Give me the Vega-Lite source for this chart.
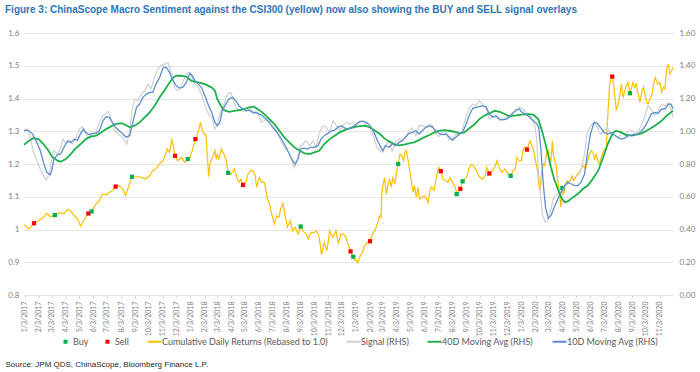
{
"$schema": "https://vega.github.io/schema/vega-lite/v6.json",
"width": 649,
"height": 262,
"autosize": {"type": "none"},
"padding": {"left": 24, "top": 33, "right": 27, "bottom": 77},
"background": "white",
"title": {"text": "Figure 3: ChinaScope Macro Sentiment against the CSI300 (yellow) now also showing the BUY and SELL signal overlays", "anchor": "start", "frame": "group", "dx": -19, "offset": 14, "font": "Liberation Sans", "fontSize": 10, "fontWeight": "bold", "color": "#2E75B6"},
"config": {"view": {"stroke": null}, "axis": {"labelFont": "Lato", "labelColor": "#808080"}},
"datasets": {
"cum": [
{"date":"2017-01-01","value":1.015},{"date":"2017-01-12","value":1.002},{"date":"2017-01-23","value":1.019},{"date":"2017-02-02","value":1.027},{"date":"2017-02-13","value":1.037},{"date":"2017-02-20","value":1.049},{"date":"2017-03-01","value":1.039},{"date":"2017-03-10","value":1.044},{"date":"2017-03-21","value":1.052},{"date":"2017-03-30","value":1.047},{"date":"2017-04-07","value":1.061},{"date":"2017-04-14","value":1.057},{"date":"2017-04-22","value":1.042},{"date":"2017-04-29","value":1.032},{"date":"2017-05-06","value":1.010},{"date":"2017-05-14","value":1.032},{"date":"2017-05-23","value":1.049},{"date":"2017-05-30","value":1.055},{"date":"2017-06-09","value":1.078},{"date":"2017-06-16","value":1.088},{"date":"2017-06-23","value":1.108},{"date":"2017-07-01","value":1.106},{"date":"2017-07-08","value":1.113},{"date":"2017-07-15","value":1.119},{"date":"2017-07-22","value":1.131},{"date":"2017-07-30","value":1.134},{"date":"2017-08-07","value":1.124},{"date":"2017-08-13","value":1.103},{"date":"2017-08-18","value":1.124},{"date":"2017-08-27","value":1.161},{"date":"2017-09-06","value":1.161},{"date":"2017-09-17","value":1.159},{"date":"2017-09-26","value":1.154},{"date":"2017-10-05","value":1.164},{"date":"2017-10-12","value":1.180},{"date":"2017-10-19","value":1.185},{"date":"2017-10-26","value":1.200},{"date":"2017-11-04","value":1.210},{"date":"2017-11-13","value":1.246},{"date":"2017-11-18","value":1.236},{"date":"2017-11-23","value":1.276},{"date":"2017-11-28","value":1.241},{"date":"2017-11-30","value":1.225},{"date":"2017-12-06","value":1.210},{"date":"2017-12-14","value":1.220},{"date":"2017-12-21","value":1.205},{"date":"2017-12-28","value":1.215},
{"date":"2018-01-02","value":1.220},{"date":"2018-01-07","value":1.241},{"date":"2018-01-14","value":1.276},{"date":"2018-01-20","value":1.297},{"date":"2018-01-25","value":1.327},{"date":"2018-01-29","value":1.302},{"date":"2018-02-02","value":1.291},{"date":"2018-02-06","value":1.291},{"date":"2018-02-10","value":1.210},{"date":"2018-02-12","value":1.161},{"date":"2018-02-15","value":1.200},{"date":"2018-02-20","value":1.220},{"date":"2018-02-26","value":1.241},{"date":"2018-03-01","value":1.215},{"date":"2018-03-03","value":1.230},{"date":"2018-03-07","value":1.215},{"date":"2018-03-12","value":1.246},{"date":"2018-03-18","value":1.230},{"date":"2018-03-23","value":1.210},{"date":"2018-03-27","value":1.173},{"date":"2018-04-02","value":1.169},{"date":"2018-04-10","value":1.185},{"date":"2018-04-15","value":1.159},{"date":"2018-04-20","value":1.144},{"date":"2018-04-24","value":1.154},{"date":"2018-04-29","value":1.136},{"date":"2018-05-05","value":1.144},{"date":"2018-05-10","value":1.169},{"date":"2018-05-16","value":1.180},{"date":"2018-05-20","value":1.180},{"date":"2018-05-25","value":1.169},{"date":"2018-05-29","value":1.129},{"date":"2018-06-04","value":1.159},{"date":"2018-06-09","value":1.144},{"date":"2018-06-15","value":1.144},{"date":"2018-06-21","value":1.098},{"date":"2018-06-26","value":1.078},{"date":"2018-07-01","value":1.048},{"date":"2018-07-07","value":1.017},{"date":"2018-07-12","value":1.042},{"date":"2018-07-17","value":1.037},{"date":"2018-07-21","value":1.063},{"date":"2018-07-26","value":1.080},{"date":"2018-07-30","value":1.048},{"date":"2018-08-05","value":1.007},{"date":"2018-08-11","value":1.027},{"date":"2018-08-16","value":0.996},{"date":"2018-08-22","value":1.007},{"date":"2018-08-28","value":0.986},{"date":"2018-09-03","value":1.009},{"date":"2018-09-08","value":0.996},{"date":"2018-09-15","value":0.986},{"date":"2018-09-20","value":0.971},{"date":"2018-09-26","value":0.991},{"date":"2018-10-03","value":0.991},{"date":"2018-10-08","value":0.996},{"date":"2018-10-14","value":0.976},{"date":"2018-10-19","value":0.923},{"date":"2018-10-25","value":0.961},{"date":"2018-10-31","value":0.935},{"date":"2018-11-06","value":0.996},{"date":"2018-11-13","value":0.976},{"date":"2018-11-20","value":0.996},{"date":"2018-11-25","value":0.956},{"date":"2018-12-01","value":0.986},{"date":"2018-12-07","value":0.986},{"date":"2018-12-12","value":0.976},{"date":"2018-12-16","value":0.956},{"date":"2018-12-22","value":0.933},{"date":"2018-12-28","value":0.917},{"date":"2018-12-31","value":0.907},
{"date":"2019-01-03","value":0.907},{"date":"2019-01-07","value":0.898},{"date":"2019-01-11","value":0.915},{"date":"2019-01-17","value":0.930},{"date":"2019-01-22","value":0.951},{"date":"2019-01-27","value":0.958},{"date":"2019-02-03","value":0.964},{"date":"2019-02-08","value":0.986},{"date":"2019-02-14","value":0.996},{"date":"2019-02-19","value":1.017},{"date":"2019-02-24","value":1.042},{"date":"2019-02-27","value":1.037},{"date":"2019-03-01","value":1.108},{"date":"2019-03-03","value":1.129},{"date":"2019-03-07","value":1.159},{"date":"2019-03-11","value":1.108},{"date":"2019-03-15","value":1.139},{"date":"2019-03-18","value":1.154},{"date":"2019-03-22","value":1.129},{"date":"2019-03-25","value":1.161},{"date":"2019-03-30","value":1.139},{"date":"2019-04-03","value":1.180},{"date":"2019-04-06","value":1.200},{"date":"2019-04-10","value":1.230},{"date":"2019-04-14","value":1.225},{"date":"2019-04-18","value":1.210},{"date":"2019-04-21","value":1.236},{"date":"2019-04-24","value":1.241},{"date":"2019-04-28","value":1.210},{"date":"2019-05-01","value":1.185},{"date":"2019-05-05","value":1.149},{"date":"2019-05-09","value":1.113},{"date":"2019-05-12","value":1.134},{"date":"2019-05-16","value":1.098},{"date":"2019-05-20","value":1.129},{"date":"2019-05-23","value":1.093},{"date":"2019-05-28","value":1.098},{"date":"2019-06-02","value":1.103},{"date":"2019-06-08","value":1.093},{"date":"2019-06-11","value":1.080},{"date":"2019-06-15","value":1.119},{"date":"2019-06-19","value":1.129},{"date":"2019-06-24","value":1.119},{"date":"2019-06-29","value":1.159},{"date":"2019-07-04","value":1.190},{"date":"2019-07-09","value":1.178},{"date":"2019-07-14","value":1.154},{"date":"2019-07-20","value":1.149},{"date":"2019-07-25","value":1.144},{"date":"2019-07-29","value":1.159},{"date":"2019-08-04","value":1.144},{"date":"2019-08-10","value":1.129},{"date":"2019-08-13","value":1.108},{"date":"2019-08-17","value":1.113},{"date":"2019-08-21","value":1.124},{"date":"2019-08-26","value":1.147},{"date":"2019-08-30","value":1.151},{"date":"2019-09-05","value":1.164},{"date":"2019-09-09","value":1.185},{"date":"2019-09-14","value":1.198},{"date":"2019-09-19","value":1.195},{"date":"2019-09-25","value":1.180},{"date":"2019-10-02","value":1.161},{"date":"2019-10-09","value":1.154},{"date":"2019-10-15","value":1.164},{"date":"2019-10-18","value":1.190},{"date":"2019-10-24","value":1.171},{"date":"2019-10-30","value":1.178},{"date":"2019-11-05","value":1.190},{"date":"2019-11-10","value":1.210},{"date":"2019-11-16","value":1.185},{"date":"2019-11-21","value":1.174},{"date":"2019-11-27","value":1.185},{"date":"2019-12-04","value":1.171},{"date":"2019-12-10","value":1.164},{"date":"2019-12-16","value":1.180},{"date":"2019-12-20","value":1.182},{"date":"2019-12-24","value":1.220},{"date":"2019-12-29","value":1.210},
{"date":"2020-01-03","value":1.210},{"date":"2020-01-06","value":1.241},{"date":"2020-01-10","value":1.251},{"date":"2020-01-15","value":1.244},{"date":"2020-01-19","value":1.261},{"date":"2020-01-22","value":1.271},{"date":"2020-01-26","value":1.256},{"date":"2020-01-30","value":1.241},{"date":"2020-02-03","value":1.210},{"date":"2020-02-07","value":1.180},{"date":"2020-02-10","value":1.139},{"date":"2020-02-13","value":1.119},{"date":"2020-02-16","value":1.169},{"date":"2020-02-20","value":1.200},{"date":"2020-02-23","value":1.195},{"date":"2020-02-27","value":1.230},{"date":"2020-03-02","value":1.241},{"date":"2020-03-04","value":1.220},{"date":"2020-03-08","value":1.210},{"date":"2020-03-11","value":1.271},{"date":"2020-03-13","value":1.230},{"date":"2020-03-16","value":1.210},{"date":"2020-03-19","value":1.200},{"date":"2020-03-22","value":1.159},{"date":"2020-03-26","value":1.119},{"date":"2020-03-30","value":1.068},{"date":"2020-04-02","value":1.127},{"date":"2020-04-05","value":1.108},{"date":"2020-04-09","value":1.139},{"date":"2020-04-13","value":1.149},{"date":"2020-04-16","value":1.144},{"date":"2020-04-20","value":1.154},{"date":"2020-04-24","value":1.164},{"date":"2020-04-27","value":1.149},{"date":"2020-05-01","value":1.159},{"date":"2020-05-06","value":1.169},{"date":"2020-05-11","value":1.178},{"date":"2020-05-15","value":1.190},{"date":"2020-05-19","value":1.195},{"date":"2020-05-23","value":1.185},{"date":"2020-05-28","value":1.210},{"date":"2020-06-01","value":1.230},{"date":"2020-06-05","value":1.241},{"date":"2020-06-08","value":1.236},{"date":"2020-06-12","value":1.215},{"date":"2020-06-16","value":1.230},{"date":"2020-06-19","value":1.210},{"date":"2020-06-23","value":1.200},{"date":"2020-06-27","value":1.220},{"date":"2020-07-01","value":1.236},{"date":"2020-07-04","value":1.246},{"date":"2020-07-08","value":1.246},{"date":"2020-07-11","value":1.342},{"date":"2020-07-15","value":1.439},{"date":"2020-07-18","value":1.459},{"date":"2020-07-21","value":1.467},{"date":"2020-07-24","value":1.444},{"date":"2020-07-27","value":1.403},{"date":"2020-07-30","value":1.363},{"date":"2020-08-03","value":1.383},{"date":"2020-08-07","value":1.414},{"date":"2020-08-10","value":1.444},{"date":"2020-08-14","value":1.403},{"date":"2020-08-18","value":1.424},{"date":"2020-08-21","value":1.439},{"date":"2020-08-25","value":1.449},{"date":"2020-08-29","value":1.416},{"date":"2020-09-02","value":1.434},{"date":"2020-09-05","value":1.449},{"date":"2020-09-09","value":1.434},{"date":"2020-09-12","value":1.444},{"date":"2020-09-16","value":1.414},{"date":"2020-09-20","value":1.388},{"date":"2020-09-24","value":1.419},{"date":"2020-09-28","value":1.434},{"date":"2020-10-01","value":1.414},{"date":"2020-10-05","value":1.388},{"date":"2020-10-08","value":1.383},{"date":"2020-10-12","value":1.398},{"date":"2020-10-17","value":1.414},{"date":"2020-10-21","value":1.449},{"date":"2020-10-24","value":1.464},{"date":"2020-10-29","value":1.444},{"date":"2020-11-03","value":1.449},{"date":"2020-11-07","value":1.419},{"date":"2020-11-11","value":1.434},{"date":"2020-11-14","value":1.429},{"date":"2020-11-18","value":1.490},{"date":"2020-11-22","value":1.505},{"date":"2020-11-25","value":1.475},{"date":"2020-11-29","value":1.485},{"date":"2020-12-02","value":1.495}
],
"signals": [
{"date":"2017-01-23","value":1.019,"signal":"Sell"},{"date":"2017-03-10","value":1.044,"signal":"Buy"},{"date":"2017-05-23","value":1.049,"signal":"Sell"},{"date":"2017-05-30","value":1.055,"signal":"Buy"},{"date":"2017-07-22","value":1.131,"signal":"Sell"},{"date":"2017-08-27","value":1.161,"signal":"Buy"},{"date":"2017-11-30","value":1.225,"signal":"Sell"},{"date":"2017-12-28","value":1.215,"signal":"Buy"},{"date":"2018-01-14","value":1.276,"signal":"Sell"},{"date":"2018-03-27","value":1.173,"signal":"Buy"},{"date":"2018-04-29","value":1.136,"signal":"Sell"},{"date":"2018-09-03","value":1.009,"signal":"Buy"},{"date":"2018-12-22","value":0.933,"signal":"Sell"},{"date":"2018-12-28","value":0.917,"signal":"Buy"},{"date":"2019-02-03","value":0.964,"signal":"Sell"},{"date":"2019-04-06","value":1.200,"signal":"Buy"},{"date":"2019-07-09","value":1.178,"signal":"Sell"},{"date":"2019-08-13","value":1.108,"signal":"Buy"},{"date":"2019-08-21","value":1.124,"signal":"Sell"},{"date":"2019-08-26","value":1.147,"signal":"Buy"},{"date":"2019-10-24","value":1.171,"signal":"Sell"},{"date":"2019-12-10","value":1.164,"signal":"Buy"},{"date":"2020-01-15","value":1.244,"signal":"Sell"},{"date":"2020-04-02","value":1.127,"signal":"Buy"},{"date":"2020-07-21","value":1.467,"signal":"Sell"},{"date":"2020-08-29","value":1.416,"signal":"Buy"}
],
"sig": [
{"date":"2017-01-01","value":1.003},{"date":"2017-01-07","value":1.013},{"date":"2017-01-14","value":0.973},{"date":"2017-01-21","value":0.881},{"date":"2017-01-29","value":0.820},{"date":"2017-02-06","value":0.769},{"date":"2017-02-13","value":0.729},{"date":"2017-02-19","value":0.702},{"date":"2017-02-26","value":0.739},{"date":"2017-03-01","value":0.800},{"date":"2017-03-08","value":0.881},{"date":"2017-03-16","value":0.861},{"date":"2017-03-23","value":0.902},{"date":"2017-03-28","value":0.952},{"date":"2017-04-03","value":0.922},{"date":"2017-04-11","value":0.942},{"date":"2017-04-18","value":0.922},{"date":"2017-04-25","value":0.958},{"date":"2017-05-03","value":1.013},{"date":"2017-05-10","value":1.028},{"date":"2017-05-17","value":0.983},{"date":"2017-05-25","value":0.958},{"date":"2017-06-01","value":0.983},{"date":"2017-06-09","value":0.993},{"date":"2017-06-16","value":1.054},{"date":"2017-06-24","value":1.095},{"date":"2017-06-29","value":1.105},{"date":"2017-07-06","value":1.121},{"date":"2017-07-11","value":1.085},{"date":"2017-07-19","value":1.003},{"date":"2017-07-26","value":0.983},{"date":"2017-08-03","value":0.973},{"date":"2017-08-11","value":0.942},{"date":"2017-08-16","value":0.922},{"date":"2017-08-22","value":1.003},{"date":"2017-08-27","value":1.125},{"date":"2017-09-02","value":1.197},{"date":"2017-09-09","value":1.186},{"date":"2017-09-17","value":1.227},{"date":"2017-09-24","value":1.247},{"date":"2017-10-02","value":1.288},{"date":"2017-10-08","value":1.258},{"date":"2017-10-16","value":1.329},{"date":"2017-10-23","value":1.380},{"date":"2017-10-30","value":1.400},{"date":"2017-11-07","value":1.410},{"date":"2017-11-15","value":1.420},{"date":"2017-11-22","value":1.349},{"date":"2017-11-29","value":1.268},{"date":"2017-12-06","value":1.247},{"date":"2017-12-14","value":1.278},{"date":"2017-12-21","value":1.329},{"date":"2017-12-28","value":1.355},
{"date":"2018-01-02","value":1.359},{"date":"2018-01-05","value":1.339},{"date":"2018-01-13","value":1.288},{"date":"2018-01-20","value":1.268},{"date":"2018-01-27","value":1.227},{"date":"2018-02-04","value":1.156},{"date":"2018-02-12","value":1.105},{"date":"2018-02-19","value":1.085},{"date":"2018-02-26","value":1.013},{"date":"2018-03-03","value":1.044},{"date":"2018-03-11","value":1.125},{"date":"2018-03-18","value":1.166},{"date":"2018-03-25","value":1.227},{"date":"2018-04-02","value":1.237},{"date":"2018-04-10","value":1.166},{"date":"2018-04-17","value":1.136},{"date":"2018-04-24","value":1.125},{"date":"2018-05-02","value":1.125},{"date":"2018-05-08","value":1.129},{"date":"2018-05-16","value":1.136},{"date":"2018-05-23","value":1.105},{"date":"2018-05-31","value":1.115},{"date":"2018-06-08","value":1.054},{"date":"2018-06-15","value":1.064},{"date":"2018-06-22","value":1.085},{"date":"2018-06-29","value":1.044},{"date":"2018-07-07","value":1.024},{"date":"2018-07-14","value":0.993},{"date":"2018-07-21","value":0.942},{"date":"2018-07-29","value":0.902},{"date":"2018-08-05","value":0.881},{"date":"2018-08-13","value":0.840},{"date":"2018-08-20","value":0.779},{"date":"2018-08-26","value":0.820},{"date":"2018-09-01","value":0.902},{"date":"2018-09-08","value":0.922},{"date":"2018-09-15","value":0.942},{"date":"2018-09-23","value":0.912},{"date":"2018-09-30","value":0.942},{"date":"2018-10-07","value":0.902},{"date":"2018-10-14","value":0.993},{"date":"2018-10-22","value":1.034},{"date":"2018-10-29","value":1.024},{"date":"2018-11-06","value":0.993},{"date":"2018-11-13","value":1.064},{"date":"2018-11-21","value":1.034},{"date":"2018-11-28","value":1.003},{"date":"2018-12-05","value":1.034},{"date":"2018-12-12","value":1.054},{"date":"2018-12-20","value":1.044},{"date":"2018-12-27","value":1.054},
{"date":"2019-01-04","value":1.034},{"date":"2019-01-11","value":1.054},{"date":"2019-01-19","value":1.064},{"date":"2019-01-26","value":1.034},{"date":"2019-02-03","value":1.024},{"date":"2019-02-10","value":0.973},{"date":"2019-02-18","value":0.902},{"date":"2019-02-25","value":0.881},{"date":"2019-03-03","value":0.871},{"date":"2019-03-09","value":0.912},{"date":"2019-03-17","value":0.942},{"date":"2019-03-24","value":0.881},{"date":"2019-04-01","value":0.932},{"date":"2019-04-08","value":0.952},{"date":"2019-04-15","value":0.942},{"date":"2019-04-23","value":0.963},{"date":"2019-04-30","value":1.003},{"date":"2019-05-07","value":1.020},{"date":"2019-05-15","value":0.973},{"date":"2019-05-22","value":1.034},{"date":"2019-05-29","value":1.034},{"date":"2019-06-06","value":1.024},{"date":"2019-06-14","value":1.040},{"date":"2019-06-21","value":1.034},{"date":"2019-06-28","value":0.983},{"date":"2019-07-05","value":0.967},{"date":"2019-07-12","value":0.993},{"date":"2019-07-20","value":1.003},{"date":"2019-07-27","value":0.946},{"date":"2019-08-04","value":0.952},{"date":"2019-08-11","value":0.983},{"date":"2019-08-19","value":0.973},{"date":"2019-08-26","value":1.013},{"date":"2019-09-03","value":1.095},{"date":"2019-09-11","value":1.146},{"date":"2019-09-18","value":1.166},{"date":"2019-09-25","value":1.156},{"date":"2019-10-02","value":1.186},{"date":"2019-10-09","value":1.166},{"date":"2019-10-17","value":1.136},{"date":"2019-10-24","value":1.074},{"date":"2019-11-01","value":1.095},{"date":"2019-11-08","value":1.085},{"date":"2019-11-16","value":1.064},{"date":"2019-11-23","value":1.074},{"date":"2019-12-01","value":1.085},{"date":"2019-12-07","value":1.095},{"date":"2019-12-15","value":1.115},{"date":"2019-12-22","value":1.125},{"date":"2019-12-29","value":1.146},
{"date":"2020-01-06","value":1.136},{"date":"2020-01-17","value":1.105},{"date":"2020-01-25","value":1.085},{"date":"2020-02-02","value":1.024},{"date":"2020-02-05","value":0.963},{"date":"2020-02-09","value":0.779},{"date":"2020-02-13","value":0.637},{"date":"2020-02-18","value":0.495},{"date":"2020-02-24","value":0.444},{"date":"2020-03-01","value":0.454},{"date":"2020-03-07","value":0.515},{"date":"2020-03-14","value":0.596},{"date":"2020-03-21","value":0.617},{"date":"2020-03-29","value":0.607},{"date":"2020-04-05","value":0.657},{"date":"2020-04-13","value":0.678},{"date":"2020-04-20","value":0.698},{"date":"2020-04-28","value":0.718},{"date":"2020-05-06","value":0.729},{"date":"2020-05-13","value":0.759},{"date":"2020-05-21","value":0.861},{"date":"2020-05-26","value":0.983},{"date":"2020-06-03","value":1.034},{"date":"2020-06-11","value":1.054},{"date":"2020-06-18","value":1.024},{"date":"2020-06-25","value":0.983},{"date":"2020-07-03","value":1.003},{"date":"2020-07-10","value":1.024},{"date":"2020-07-18","value":0.983},{"date":"2020-07-26","value":0.973},{"date":"2020-08-03","value":0.952},{"date":"2020-08-10","value":0.993},{"date":"2020-08-18","value":0.973},{"date":"2020-08-25","value":1.003},{"date":"2020-09-02","value":1.003},{"date":"2020-09-09","value":0.983},{"date":"2020-09-16","value":0.999},{"date":"2020-09-24","value":1.040},{"date":"2020-10-01","value":1.095},{"date":"2020-10-08","value":1.156},{"date":"2020-10-15","value":1.136},{"date":"2020-10-23","value":1.095},{"date":"2020-10-30","value":1.125},{"date":"2020-11-07","value":1.166},{"date":"2020-11-14","value":1.156},{"date":"2020-11-22","value":1.176},{"date":"2020-11-28","value":1.136},{"date":"2020-12-02","value":1.085}
],
"ma40": [
{"date":"2017-01-01","value":0.918},{"date":"2017-01-10","value":0.938},{"date":"2017-01-21","value":0.958},{"date":"2017-02-02","value":0.952},{"date":"2017-02-13","value":0.922},{"date":"2017-02-24","value":0.881},{"date":"2017-03-04","value":0.845},{"date":"2017-03-16","value":0.820},{"date":"2017-03-23","value":0.814},{"date":"2017-04-03","value":0.830},{"date":"2017-04-14","value":0.861},{"date":"2017-04-25","value":0.895},{"date":"2017-05-06","value":0.922},{"date":"2017-05-17","value":0.952},{"date":"2017-05-28","value":0.967},{"date":"2017-06-09","value":0.973},{"date":"2017-06-20","value":0.993},{"date":"2017-07-01","value":1.013},{"date":"2017-07-11","value":1.028},{"date":"2017-07-22","value":1.044},{"date":"2017-08-03","value":1.050},{"date":"2017-08-13","value":1.040},{"date":"2017-08-22","value":1.024},{"date":"2017-09-02","value":1.034},{"date":"2017-09-13","value":1.054},{"date":"2017-09-24","value":1.085},{"date":"2017-10-05","value":1.115},{"date":"2017-10-16","value":1.156},{"date":"2017-10-27","value":1.207},{"date":"2017-11-07","value":1.251},{"date":"2017-11-18","value":1.298},{"date":"2017-11-26","value":1.329},{"date":"2017-12-03","value":1.339},{"date":"2017-12-14","value":1.339},{"date":"2017-12-25","value":1.333},
{"date":"2018-01-05","value":1.308},{"date":"2018-01-20","value":1.298},{"date":"2018-02-04","value":1.288},{"date":"2018-02-19","value":1.268},{"date":"2018-02-26","value":1.247},{"date":"2018-03-03","value":1.197},{"date":"2018-03-11","value":1.156},{"date":"2018-03-18","value":1.129},{"date":"2018-03-29","value":1.119},{"date":"2018-04-10","value":1.125},{"date":"2018-04-20","value":1.129},{"date":"2018-05-02","value":1.136},{"date":"2018-05-12","value":1.146},{"date":"2018-05-23","value":1.150},{"date":"2018-06-04","value":1.129},{"date":"2018-06-15","value":1.105},{"date":"2018-06-26","value":1.074},{"date":"2018-07-07","value":1.044},{"date":"2018-07-18","value":1.003},{"date":"2018-07-29","value":0.963},{"date":"2018-08-09","value":0.932},{"date":"2018-08-20","value":0.902},{"date":"2018-09-01","value":0.881},{"date":"2018-09-12","value":0.865},{"date":"2018-09-23","value":0.861},{"date":"2018-10-03","value":0.871},{"date":"2018-10-14","value":0.881},{"date":"2018-10-25","value":0.922},{"date":"2018-11-06","value":0.952},{"date":"2018-11-17","value":0.973},{"date":"2018-11-28","value":0.993},{"date":"2018-12-09","value":1.007},{"date":"2018-12-20","value":1.017},
{"date":"2019-01-04","value":1.028},{"date":"2019-01-22","value":1.034},{"date":"2019-02-03","value":1.024},{"date":"2019-02-14","value":1.003},{"date":"2019-02-25","value":0.983},{"date":"2019-03-06","value":0.958},{"date":"2019-03-17","value":0.938},{"date":"2019-03-28","value":0.922},{"date":"2019-04-08","value":0.914},{"date":"2019-04-19","value":0.918},{"date":"2019-04-30","value":0.926},{"date":"2019-05-11","value":0.932},{"date":"2019-05-22","value":0.946},{"date":"2019-06-02","value":0.963},{"date":"2019-06-14","value":0.977},{"date":"2019-06-25","value":0.993},{"date":"2019-07-05","value":1.003},{"date":"2019-07-16","value":1.007},{"date":"2019-07-27","value":1.003},{"date":"2019-08-08","value":0.997},{"date":"2019-08-19","value":0.987},{"date":"2019-08-30","value":0.993},{"date":"2019-09-11","value":1.020},{"date":"2019-09-22","value":1.044},{"date":"2019-10-02","value":1.074},{"date":"2019-10-13","value":1.095},{"date":"2019-10-24","value":1.109},{"date":"2019-11-05","value":1.125},{"date":"2019-11-16","value":1.119},{"date":"2019-11-27","value":1.105},{"date":"2019-12-07","value":1.091},{"date":"2019-12-18","value":1.095},
{"date":"2020-01-03","value":1.101},{"date":"2020-01-17","value":1.105},{"date":"2020-01-29","value":1.101},{"date":"2020-02-09","value":1.074},{"date":"2020-02-16","value":1.013},{"date":"2020-02-24","value":0.932},{"date":"2020-03-02","value":0.851},{"date":"2020-03-08","value":0.779},{"date":"2020-03-15","value":0.708},{"date":"2020-03-23","value":0.647},{"date":"2020-03-30","value":0.596},{"date":"2020-04-07","value":0.566},{"date":"2020-04-14","value":0.572},{"date":"2020-04-25","value":0.596},{"date":"2020-05-06","value":0.617},{"date":"2020-05-17","value":0.647},{"date":"2020-05-28","value":0.668},{"date":"2020-06-08","value":0.708},{"date":"2020-06-20","value":0.759},{"date":"2020-07-01","value":0.840},{"date":"2020-07-11","value":0.922},{"date":"2020-07-22","value":0.987},{"date":"2020-07-29","value":1.003},{"date":"2020-08-10","value":0.993},{"date":"2020-08-21","value":0.977},{"date":"2020-09-02","value":0.973},{"date":"2020-09-12","value":0.979},{"date":"2020-09-24","value":0.987},{"date":"2020-10-05","value":1.003},{"date":"2020-10-15","value":1.020},{"date":"2020-10-26","value":1.040},{"date":"2020-11-07","value":1.064},{"date":"2020-11-18","value":1.095},{"date":"2020-11-29","value":1.119},{"date":"2020-12-02","value":1.125}
],
"ma10": [
{"date":"2017-01-01","value":1.003},{"date":"2017-01-10","value":1.007},{"date":"2017-01-20","value":0.983},{"date":"2017-01-29","value":0.932},{"date":"2017-02-06","value":0.881},{"date":"2017-02-13","value":0.810},{"date":"2017-02-20","value":0.749},{"date":"2017-02-28","value":0.735},{"date":"2017-03-03","value":0.759},{"date":"2017-03-08","value":0.830},{"date":"2017-03-16","value":0.857},{"date":"2017-03-23","value":0.861},{"date":"2017-03-30","value":0.902},{"date":"2017-04-07","value":0.942},{"date":"2017-04-14","value":0.932},{"date":"2017-04-22","value":0.952},{"date":"2017-04-29","value":0.946},{"date":"2017-05-06","value":0.987},{"date":"2017-05-12","value":1.013},{"date":"2017-05-17","value":0.993},{"date":"2017-05-25","value":0.979},{"date":"2017-06-01","value":0.987},{"date":"2017-06-09","value":0.987},{"date":"2017-06-16","value":1.003},{"date":"2017-06-24","value":1.064},{"date":"2017-07-01","value":1.089},{"date":"2017-07-08","value":1.085},{"date":"2017-07-15","value":1.054},{"date":"2017-07-22","value":1.024},{"date":"2017-07-30","value":1.003},{"date":"2017-08-07","value":0.983},{"date":"2017-08-14","value":0.963},{"date":"2017-08-22","value":0.973},{"date":"2017-08-29","value":1.054},{"date":"2017-09-06","value":1.146},{"date":"2017-09-13","value":1.166},{"date":"2017-09-20","value":1.207},{"date":"2017-09-28","value":1.227},{"date":"2017-10-05","value":1.237},{"date":"2017-10-12","value":1.237},{"date":"2017-10-19","value":1.288},{"date":"2017-10-27","value":1.329},{"date":"2017-11-04","value":1.390},{"date":"2017-11-11","value":1.390},{"date":"2017-11-18","value":1.359},{"date":"2017-11-26","value":1.308},{"date":"2017-12-03","value":1.278},{"date":"2017-12-10","value":1.264},{"date":"2017-12-17","value":1.268},{"date":"2017-12-25","value":1.298},{"date":"2017-12-29","value":1.329},
{"date":"2018-01-02","value":1.353},{"date":"2018-01-07","value":1.339},{"date":"2018-01-13","value":1.308},{"date":"2018-01-20","value":1.288},{"date":"2018-01-27","value":1.268},{"date":"2018-02-04","value":1.217},{"date":"2018-02-12","value":1.156},{"date":"2018-02-19","value":1.115},{"date":"2018-02-26","value":1.054},{"date":"2018-03-03","value":1.034},{"date":"2018-03-09","value":1.054},{"date":"2018-03-14","value":1.125},{"date":"2018-03-22","value":1.166},{"date":"2018-03-29","value":1.197},{"date":"2018-04-06","value":1.207},{"date":"2018-04-13","value":1.186},{"date":"2018-04-20","value":1.156},{"date":"2018-04-28","value":1.136},{"date":"2018-05-05","value":1.125},{"date":"2018-05-12","value":1.129},{"date":"2018-05-20","value":1.115},{"date":"2018-05-27","value":1.115},{"date":"2018-06-04","value":1.105},{"date":"2018-06-11","value":1.095},{"date":"2018-06-18","value":1.074},{"date":"2018-06-26","value":1.054},{"date":"2018-07-03","value":1.024},{"date":"2018-07-10","value":1.003},{"date":"2018-07-18","value":0.973},{"date":"2018-07-25","value":0.942},{"date":"2018-08-02","value":0.902},{"date":"2018-08-09","value":0.861},{"date":"2018-08-16","value":0.820},{"date":"2018-08-22","value":0.800},{"date":"2018-08-28","value":0.830},{"date":"2018-09-03","value":0.891},{"date":"2018-09-10","value":0.897},{"date":"2018-09-18","value":0.891},{"date":"2018-09-25","value":0.902},{"date":"2018-10-03","value":0.902},{"date":"2018-10-11","value":0.912},{"date":"2018-10-18","value":0.952},{"date":"2018-10-25","value":0.973},{"date":"2018-11-02","value":0.987},{"date":"2018-11-10","value":1.003},{"date":"2018-11-17","value":1.007},{"date":"2018-11-24","value":1.024},{"date":"2018-12-02","value":1.034},{"date":"2018-12-09","value":1.020},{"date":"2018-12-16","value":1.013},{"date":"2018-12-27","value":1.028},
{"date":"2019-01-04","value":1.044},{"date":"2019-01-11","value":1.060},{"date":"2019-01-19","value":1.060},{"date":"2019-01-26","value":1.054},{"date":"2019-02-03","value":1.034},{"date":"2019-02-10","value":1.003},{"date":"2019-02-18","value":0.952},{"date":"2019-02-25","value":0.912},{"date":"2019-03-03","value":0.881},{"date":"2019-03-09","value":0.912},{"date":"2019-03-17","value":0.902},{"date":"2019-03-24","value":0.922},{"date":"2019-04-01","value":0.912},{"date":"2019-04-08","value":0.932},{"date":"2019-04-15","value":0.942},{"date":"2019-04-23","value":0.967},{"date":"2019-04-30","value":0.987},{"date":"2019-05-07","value":0.993},{"date":"2019-05-15","value":1.003},{"date":"2019-05-22","value":0.983},{"date":"2019-05-29","value":1.003},{"date":"2019-06-06","value":1.024},{"date":"2019-06-14","value":1.034},{"date":"2019-06-21","value":1.024},{"date":"2019-06-28","value":1.003},{"date":"2019-07-05","value":0.987},{"date":"2019-07-12","value":0.979},{"date":"2019-07-20","value":0.983},{"date":"2019-07-27","value":0.967},{"date":"2019-08-04","value":0.946},{"date":"2019-08-11","value":0.963},{"date":"2019-08-19","value":0.983},{"date":"2019-08-26","value":0.993},{"date":"2019-09-03","value":1.044},{"date":"2019-09-11","value":1.105},{"date":"2019-09-18","value":1.142},{"date":"2019-09-25","value":1.146},{"date":"2019-10-02","value":1.150},{"date":"2019-10-09","value":1.156},{"date":"2019-10-17","value":1.150},{"date":"2019-10-24","value":1.105},{"date":"2019-11-01","value":1.085},{"date":"2019-11-08","value":1.095},{"date":"2019-11-16","value":1.074},{"date":"2019-11-23","value":1.070},{"date":"2019-12-01","value":1.074},{"date":"2019-12-07","value":1.085},{"date":"2019-12-15","value":1.109},{"date":"2019-12-22","value":1.129},{"date":"2019-12-29","value":1.136},
{"date":"2020-01-03","value":1.119},{"date":"2020-01-17","value":1.095},{"date":"2020-01-29","value":1.064},{"date":"2020-02-05","value":1.048},{"date":"2020-02-10","value":1.024},{"date":"2020-02-15","value":0.881},{"date":"2020-02-20","value":0.678},{"date":"2020-02-25","value":0.535},{"date":"2020-03-02","value":0.468},{"date":"2020-03-08","value":0.484},{"date":"2020-03-15","value":0.535},{"date":"2020-03-23","value":0.586},{"date":"2020-03-30","value":0.627},{"date":"2020-04-07","value":0.668},{"date":"2020-04-14","value":0.688},{"date":"2020-04-22","value":0.678},{"date":"2020-04-29","value":0.668},{"date":"2020-05-06","value":0.668},{"date":"2020-05-13","value":0.688},{"date":"2020-05-21","value":0.739},{"date":"2020-05-28","value":0.881},{"date":"2020-06-03","value":0.983},{"date":"2020-06-11","value":1.054},{"date":"2020-06-18","value":1.048},{"date":"2020-06-25","value":1.024},{"date":"2020-07-03","value":0.993},{"date":"2020-07-11","value":0.983},{"date":"2020-07-18","value":0.993},{"date":"2020-07-26","value":0.977},{"date":"2020-08-03","value":0.963},{"date":"2020-08-10","value":0.952},{"date":"2020-08-18","value":0.958},{"date":"2020-08-25","value":0.973},{"date":"2020-09-05","value":0.979},{"date":"2020-09-16","value":0.983},{"date":"2020-09-24","value":1.003},{"date":"2020-10-01","value":1.028},{"date":"2020-10-08","value":1.064},{"date":"2020-10-15","value":1.105},{"date":"2020-10-23","value":1.115},{"date":"2020-10-30","value":1.109},{"date":"2020-11-07","value":1.136},{"date":"2020-11-14","value":1.136},{"date":"2020-11-22","value":1.166},{"date":"2020-11-28","value":1.166},{"date":"2020-12-02","value":1.136}
]
},
"encoding": {
"x": {"field": "date", "type": "temporal",
 "scale": {"type": "utc", "domain": [{"year":2017,"month":1,"date":1,"utc":true},{"year":2020,"month":12,"date":2,"utc":true}]},
 "axis": {"orient": "bottom", "labelExpr": "utcFormat(datum.value, '%-m/%-d/%Y')", "labelAngle": -90, "labelFontSize": 7, "labelOverlap": false, "labelPadding": 3, "grid": false, "domain": false, "ticks": true, "tickSize": 3, "tickColor": "#D9D9D9",
 "values": [{"year":2017,"month":1,"date":3,"utc":true},{"year":2017,"month":2,"date":3,"utc":true},{"year":2017,"month":3,"date":3,"utc":true},{"year":2017,"month":4,"date":3,"utc":true},{"year":2017,"month":5,"date":3,"utc":true},{"year":2017,"month":6,"date":3,"utc":true},{"year":2017,"month":7,"date":3,"utc":true},{"year":2017,"month":8,"date":3,"utc":true},{"year":2017,"month":9,"date":3,"utc":true},{"year":2017,"month":10,"date":3,"utc":true},{"year":2017,"month":11,"date":3,"utc":true},{"year":2017,"month":12,"date":3,"utc":true},{"year":2018,"month":1,"date":3,"utc":true},{"year":2018,"month":2,"date":3,"utc":true},{"year":2018,"month":3,"date":3,"utc":true},{"year":2018,"month":4,"date":3,"utc":true},{"year":2018,"month":5,"date":3,"utc":true},{"year":2018,"month":6,"date":3,"utc":true},{"year":2018,"month":7,"date":3,"utc":true},{"year":2018,"month":8,"date":3,"utc":true},{"year":2018,"month":9,"date":3,"utc":true},{"year":2018,"month":10,"date":3,"utc":true},{"year":2018,"month":11,"date":3,"utc":true},{"year":2018,"month":12,"date":3,"utc":true},{"year":2019,"month":1,"date":3,"utc":true},{"year":2019,"month":2,"date":3,"utc":true},{"year":2019,"month":3,"date":3,"utc":true},{"year":2019,"month":4,"date":3,"utc":true},{"year":2019,"month":5,"date":3,"utc":true},{"year":2019,"month":6,"date":3,"utc":true},{"year":2019,"month":7,"date":3,"utc":true},{"year":2019,"month":8,"date":3,"utc":true},{"year":2019,"month":9,"date":3,"utc":true},{"year":2019,"month":10,"date":3,"utc":true},{"year":2019,"month":11,"date":3,"utc":true},{"year":2019,"month":12,"date":3,"utc":true},{"year":2020,"month":1,"date":3,"utc":true},{"year":2020,"month":2,"date":3,"utc":true},{"year":2020,"month":3,"date":3,"utc":true},{"year":2020,"month":4,"date":3,"utc":true},{"year":2020,"month":5,"date":3,"utc":true},{"year":2020,"month":6,"date":3,"utc":true},{"year":2020,"month":7,"date":3,"utc":true},{"year":2020,"month":8,"date":3,"utc":true},{"year":2020,"month":9,"date":3,"utc":true},{"year":2020,"month":10,"date":3,"utc":true},{"year":2020,"month":11,"date":3,"utc":true}],
 "title": "Source: JPM QDS, ChinaScope, Bloomberg Finance L.P.", "titleAnchor": "start", "titleAlign": "left", "titleBaseline": "alphabetic", "titleX": -19, "titleY": 71, "titleFont": "Liberation Sans", "titleFontSize": 8, "titleFontWeight": "normal", "titleColor": "#262626"}
}
},
"layer": [
{
 "encoding": {"y": {"field": "value", "type": "quantitative", "scale": {"domain": [0.8, 1.6], "nice": false, "zero": false},
  "axis": {"orient": "left", "values": [0.8, 0.9, 1.0, 1.1, 1.2, 1.3, 1.4, 1.5, 1.6], "format": ".1~f", "grid": true, "gridColor": "#E6E6E6", "domain": false, "ticks": false, "labelPadding": 5, "labelFontSize": 8, "title": null}}},
 "layer": [
  {"data": {"name": "cum"}, "mark": {"type": "line", "strokeWidth": 1.2},
   "encoding": {"color": {"datum": "Cumulative Daily Returns (Rebased to 1.0)", "type": "nominal",
     "scale": {"domain": ["Buy", "Sell", "Cumulative Daily Returns (Rebased to 1.0)", "Signal (RHS)", "40D Moving Avg (RHS)", "10D Moving Avg (RHS)"], "range": ["#00B050", "#FF0000", "#FFC000", "#D0D0D0", "#1DB04B", "#5B8FCF"]},
     "legend": {"orient": "none", "legendX": 37, "legendY": 304, "direction": "horizontal", "title": null, "labelFont": "Lato", "labelFontSize": 9, "labelLimit": 400, "labelColor": "#595959", "columnPadding": 14, "labelOffset": 3, "symbolSize": 196, "symbolStrokeWidth": 2,
      "encode": {"symbols": {"update": {"shape": {"signal": "datum.value === 'Buy' || datum.value === 'Sell' ? 'square' : 'stroke'"}, "size": {"signal": "datum.value === 'Buy' || datum.value === 'Sell' ? 16 : 196"}, "fill": {"scale": "color", "field": "value"}, "stroke": {"scale": "color", "field": "value"}, "strokeWidth": {"signal": "datum.value === 'Buy' || datum.value === 'Sell' ? 0 : 2"}, "opacity": {"value": 1}}}}}}}},
  {"data": {"name": "signals"}, "mark": {"type": "square", "size": 18, "opacity": 1},
   "encoding": {"color": {"field": "signal", "type": "nominal", "legend": null}}}
 ]
},
{
 "encoding": {"y": {"field": "value", "type": "quantitative", "scale": {"domain": [0, 1.6], "nice": false, "zero": false},
  "axis": {"orient": "right", "values": [0, 0.2, 0.4, 0.6, 0.8, 1.0, 1.2, 1.4, 1.6], "format": ".2f", "grid": false, "domain": false, "ticks": false, "labelPadding": 6, "labelFontSize": 8, "title": null}}},
 "layer": [
  {"data": {"name": "sig"}, "mark": {"type": "line", "strokeWidth": 1.2}, "encoding": {"color": {"datum": "Signal (RHS)", "type": "nominal"}}},
  {"data": {"name": "ma40"}, "mark": {"type": "line", "strokeWidth": 1.8}, "encoding": {"color": {"datum": "40D Moving Avg (RHS)", "type": "nominal"}}},
  {"data": {"name": "ma10"}, "mark": {"type": "line", "strokeWidth": 1.3}, "encoding": {"color": {"datum": "10D Moving Avg (RHS)", "type": "nominal"}}}
 ]
}
],
"resolve": {"scale": {"y": "independent"}}
}
